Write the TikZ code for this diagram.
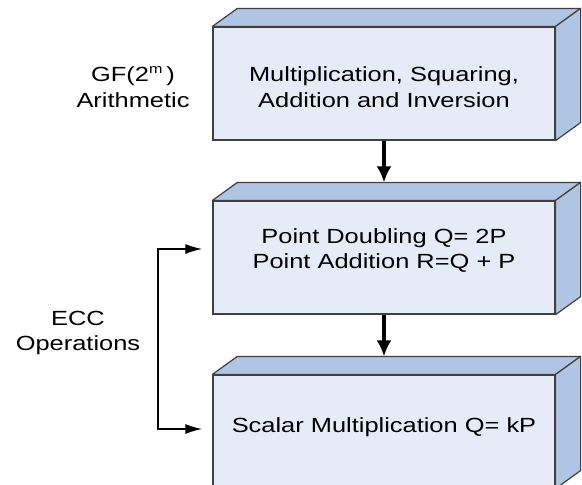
\documentclass[tikz,border=0pt]{standalone}
\usepackage{fontspec}
\setmainfont{Liberation Sans}[FakeStretch=1.24]
\usetikzlibrary{arrows.meta}
\definecolor{frontblue}{RGB}{230,236,247}
\definecolor{topblue}{RGB}{176,197,227}
\definecolor{edgegray}{RGB}{64,64,64}
\tikzset{box/.style = {shape=rectangle,draw=edgegray,line width=1.2pt,fill=frontblue,minimum width=342pt,minimum height=113pt}}
\tikzset{face/.style = {draw=edgegray,line width=1.2pt,fill=topblue,line join=round}}
\tikzset{edge/.style = {-{Latex[length=16pt,width=15pt]},line width=3.6pt}}
\tikzset{link/.style = {line width=1.8pt,{Latex[length=17pt,width=10pt]}-{Latex[length=17pt,width=10pt]}}}
\tikzset{label/.style = {align=center,font=\fontsize{20.5}{25.8}\selectfont}}

\begin{document}
\begin{tikzpicture}[x=1pt,y=-1pt]
\useasboundingbox (0,0) rectangle (582,485);
\clip (0,0) rectangle (582,485);
% boxes
\node[box] (b1) at (384,83.5) {};
\node[box] (b2) at (384,257.5) {};
\node[box] (b3) at (384,431.5) {};
% top and side faces
\foreach \b in {b1,b2,b3}{
  \draw[face] (\b.north west) -- ([shift={(25,-18)}]\b.north west) -- ([shift={(25,-18)}]\b.north east) -- (\b.north east) -- cycle;
  \draw[face] (\b.north east) -- ([shift={(25,-18)}]\b.north east) -- ([shift={(25,-18)}]\b.south east) -- (\b.south east) -- cycle;
}
% box texts
\node[label] (t1) at ([yshift=-4pt]b1.center) {Multiplication, Squaring,\\Addition and Inversion};
\node[label] (t2) at ([yshift=7pt]b2.center) {Point Doubling Q= 2P\\Point Addition R=Q + P};
\node[label] (t3) at ([yshift=4pt]b3.center) {Scalar Multiplication Q= kP};
% labels
\node[label] (gf) at (133,87) {GF(2\raisebox{8pt}{\fontsize{13}{13}\selectfont m}\hspace{4pt})\\Arithmetic};
\node[label] (ecc) at (78,333) {ECC\\Operations};
\coordinate (ecctop) at (158,249);
\coordinate (eccbot) at (158,429);
%edges
\draw[edge] (b1.south) -- ([yshift=18pt]b2.north);
\draw[edge] (b2.south) -- ([yshift=18pt]b3.north);
\draw[link,shorten <=10pt,shorten >=10pt] (b2.west |- ecctop) -- (ecctop) -- (eccbot) -- (b3.west |- eccbot);
\end{tikzpicture}
\end{document}
